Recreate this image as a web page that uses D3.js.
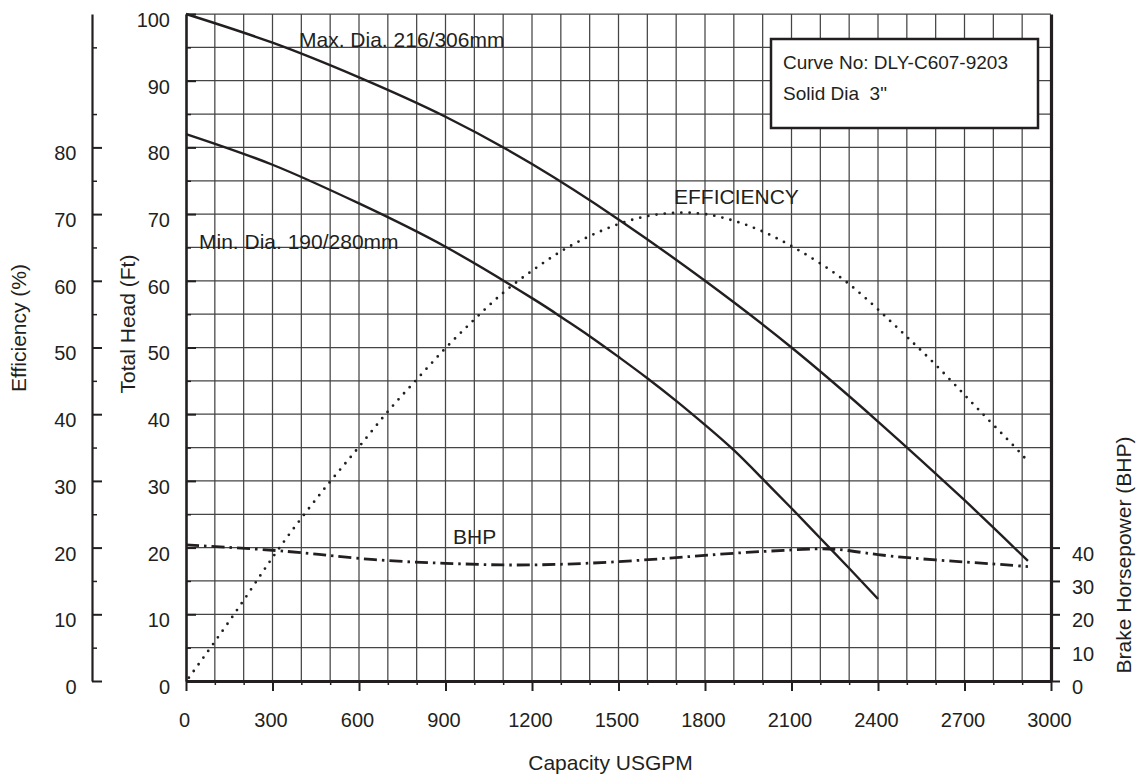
<!DOCTYPE html>
<html>
<head>
<meta charset="utf-8">
<script src="https://cdn.jsdelivr.net/npm/d3@7"></script>
<style>
  html, body { margin: 0; padding: 0; background: #fff; }
  svg { display: block; font-family: "Liberation Sans", Arial, Helvetica, sans-serif; }
  text { fill: #231f20; }
</style>
</head>
<body>
<svg id="chart" width="1143" height="775"></svg>
<script>
// ---------- data ----------
const maxFlow = [0, 300, 600, 900, 1200, 1500, 1800, 2100, 2400, 2700, 2920];
const maxHead = [100, 95.7, 90.5, 84.6, 77.5, 69.2, 60, 50, 38.9, 27.1, 18];

const minFlow = [0, 300, 600, 900, 1200, 1300, 1400, 1500, 1600, 1700, 1800, 1900, 2000, 2100, 2200, 2300, 2400];
const minHead = [82, 77.4, 71.6, 65.1, 57.4, 54.6, 51.7, 48.6, 45.4, 42.0, 38.4, 34.6, 30.3, 25.9, 21.4, 16.9, 12.3];

const effFlow = [10, 100, 200, 300, 400, 500, 600, 700, 800, 900, 1000, 1100, 1200, 1300, 1400, 1500, 1600, 1700, 1800, 1900, 2000, 2100, 2200, 2300, 2400, 2500, 2600, 2700, 2800, 2900, 2920];
const effValue = [0.5, 5.9, 12.1, 18.5, 24.4, 29.9, 35.1, 40.4, 45.2, 49.9, 54.2, 58.2, 61.5, 64.4, 66.7, 68.5, 69.7, 70.2, 70, 69, 67.4, 65.2, 62.6, 59.5, 55.7, 51.6, 47.4, 42.9, 38.4, 33.9, 32.6];

const bhpFlow = [0, 300, 500, 700, 900, 1100, 1300, 1500, 1700, 1900, 2100, 2250, 2400, 2600, 2800, 2920];
const bhpValue = [40.8, 39.2, 37.6, 36.1, 35.3, 34.8, 35.0, 35.8, 37.0, 38.3, 39.3, 39.5, 37.9, 36.3, 35.1, 34.3];

const xTicks = [0, 300, 600, 900, 1200, 1500, 1800, 2100, 2400, 2700, 3000];
const headTicks = [0, 10, 20, 30, 40, 50, 60, 70, 80, 90, 100];
const effTicks = [0, 10, 20, 30, 40, 50, 60, 70, 80];
const bhpTicks = [0, 10, 20, 30, 40];

const labelMax = "Max. Dia. 216/306mm";
const labelMin = "Min. Dia. 190/280mm";
const labelEff = "EFFICIENCY";
const labelBhp = "BHP";
const legendLines = ["Curve No: DLY-C607-9203", "Solid Dia  3\""];

// ---------- layout ----------
const L = 186, R = 1051, T = 14, B = 681;
const ink = "#231f20";
const svg = d3.select("#chart");

const x = d3.scaleLinear().domain([0, 3000]).range([L, R]);
const y = d3.scaleLinear().domain([0, 100]).range([B, T]);
const yBhp = d3.scaleLinear().domain([0, 200]).range([B, T]);

// ---------- grid ----------
const grid = svg.append("g").attr("stroke", "#454545").attr("stroke-width", 1.25);
grid.selectAll("line.v").data(d3.range(100, 3000, 100)).join("line")
  .attr("x1", d => x(d)).attr("x2", d => x(d)).attr("y1", y(0)).attr("y2", y(100));
grid.selectAll("line.h").data(d3.range(5, 101, 5)).join("line")
  .attr("y1", d => y(d)).attr("y2", d => y(d)).attr("x1", L).attr("x2", R);

// ---------- legend box ----------
const lg = svg.append("g");
lg.append("rect").attr("x", 771).attr("y", 39).attr("width", 267).attr("height", 89)
  .attr("fill", "#fff").attr("stroke", ink).attr("stroke-width", 2.5);
lg.selectAll("text").data(legendLines).join("text")
  .attr("x", 783).attr("y", (d, i) => 68.5 + i * 31.5)
  .attr("font-size", 19).style("white-space", "pre").attr("xml:space", "preserve")
  .text(d => d);

// ---------- curves ----------
const line = d3.line().x(d => x(d[0])).y(d => y(d[1])).curve(d3.curveNatural);
const lineBhp = d3.line().x(d => x(d[0])).y(d => yBhp(d[1])).curve(d3.curveNatural);

svg.append("path").datum(d3.zip(effFlow, effValue)).attr("d", line)
  .attr("fill", "none").attr("stroke", ink).attr("stroke-width", 2.8)
  .attr("stroke-linecap", "round").attr("stroke-dasharray", "0 8.3");

svg.append("path").datum(d3.zip(bhpFlow, bhpValue)).attr("d", lineBhp)
  .attr("fill", "none").attr("stroke", ink).attr("stroke-width", 2.8)
  .attr("stroke-dasharray", "13 5 2.5 5");

svg.append("path").datum(d3.zip(maxFlow, maxHead)).attr("d", line)
  .attr("fill", "none").attr("stroke", ink).attr("stroke-width", 2.4);
svg.append("path").datum(d3.zip(minFlow, minHead)).attr("d", line)
  .attr("fill", "none").attr("stroke", ink).attr("stroke-width", 2.4);

// ---------- curve labels ----------
const lab = svg.append("g").attr("font-size", 21);
lab.append("text").attr("x", 299).attr("y", 47).text(labelMax);
lab.append("text").attr("x", 199).attr("y", 248.5).text(labelMin);
lab.append("text").attr("x", 674).attr("y", 204).text(labelEff);
lab.append("text").attr("x", 453).attr("y", 543.5).text(labelBhp);

// ---------- axes ----------
function styleAxis(g, w) {
  g.select(".domain").attr("stroke", ink).attr("stroke-width", w);
  g.selectAll(".tick line").attr("stroke", ink).attr("stroke-width", 2);
  g.selectAll("text").attr("fill", ink).attr("font-size", 20)
    .attr("font-family", "'Liberation Sans', Arial, Helvetica, sans-serif");
}
const fmt = d3.format("d");

// efficiency axis (left)
const gEffMinor = svg.append("g").attr("transform", `translate(92,0)`)
  .call(d3.axisLeft(y).tickValues(d3.range(5, 100, 10)).tickSize(-5).tickFormat("").tickSizeOuter(0));
gEffMinor.select(".domain").remove();
gEffMinor.selectAll(".tick line").attr("stroke", ink).attr("stroke-width", 1.5);
const gEff = svg.append("g").attr("transform", `translate(92,0)`)
  .call(d3.axisLeft(y).tickValues(effTicks).tickFormat(fmt).tickSize(-10).tickPadding(15.5).tickSizeOuter(0));
styleAxis(gEff, 2.2);
gEff.selectAll("text").attr("dy", "0.62em");

// head axis
const gHeadMinor = svg.append("g").attr("transform", `translate(${L},0)`)
  .call(d3.axisLeft(y).tickValues(d3.range(5, 100, 10)).tickSize(-5).tickFormat("").tickSizeOuter(0));
gHeadMinor.select(".domain").remove();
gHeadMinor.selectAll(".tick line").attr("stroke", ink).attr("stroke-width", 1.5);
const gHead = svg.append("g").attr("transform", `translate(${L},0)`)
  .call(d3.axisLeft(y).tickValues(headTicks).tickFormat(fmt).tickSize(-10).tickPadding(16).tickSizeOuter(0));
styleAxis(gHead, 2.6);
gHead.selectAll("text").attr("dy", "0.62em");

// BHP axis (right)
const gBhp = svg.append("g").attr("transform", `translate(${R},0)`)
  .call(d3.axisRight(yBhp).tickValues(bhpTicks).tickFormat(fmt).tickSize(9).tickPadding(12).tickSizeOuter(0));
styleAxis(gBhp, 3.2);
gBhp.selectAll("text").attr("dy", "0.62em");

// capacity axis (bottom)
const gXMinor = svg.append("g").attr("transform", `translate(0,${B})`)
  .call(d3.axisBottom(x).tickValues(d3.range(100, 3000, 100).filter(v => v % 300 !== 0)).tickSize(4).tickFormat("").tickSizeOuter(0));
gXMinor.select(".domain").remove();
gXMinor.selectAll(".tick line").attr("stroke", ink).attr("stroke-width", 1.5);
const gX = svg.append("g").attr("transform", `translate(0,${B})`)
  .call(d3.axisBottom(x).tickValues(xTicks).tickFormat(fmt).tickSize(10).tickPadding(21.5).tickSizeOuter(0));
styleAxis(gX, 3.2);
gX.selectAll("text").attr("dx", -2);

// ---------- axis titles ----------
const tt = svg.append("g").attr("font-size", 21).attr("text-anchor", "middle");
tt.append("text").attr("transform", "translate(26,328) rotate(-90)").text("Efficiency (%)");
tt.append("text").attr("transform", "translate(135,324) rotate(-90)").text("Total Head (Ft)");
tt.append("text").attr("transform", "translate(1131,555) rotate(-90)").text("Brake Horsepower (BHP)");
tt.append("text").attr("x", 610.5).attr("y", 770).text("Capacity USGPM");
</script>
</body>
</html>
